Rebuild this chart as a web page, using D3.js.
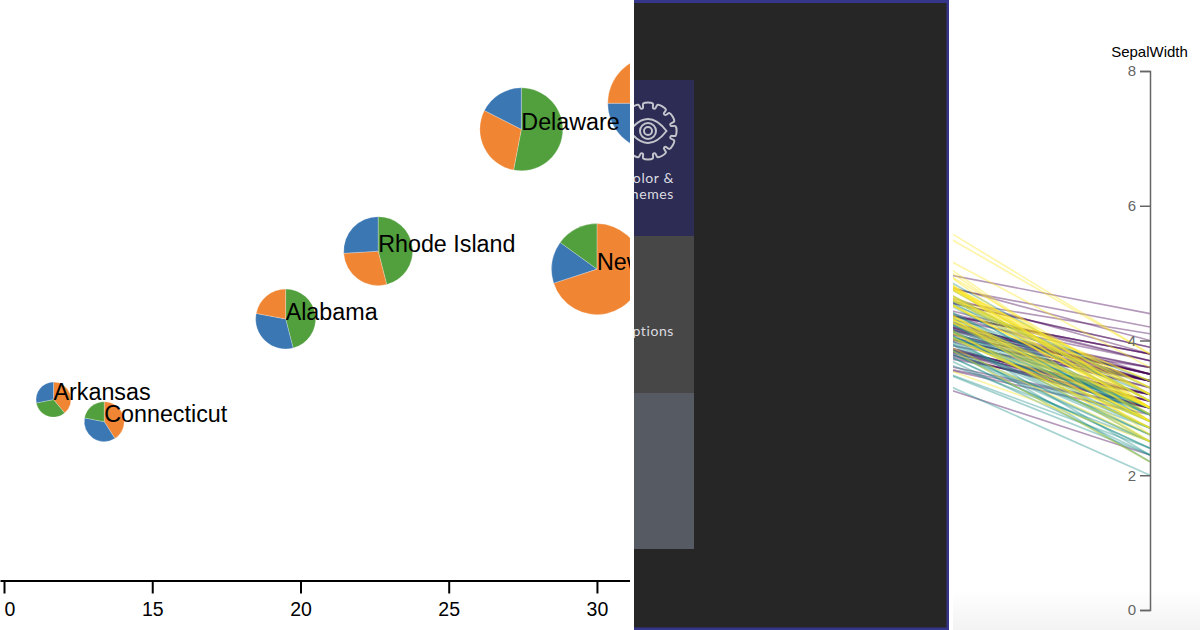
<!DOCTYPE html>
<html>
<head>
<meta charset="utf-8">
<script src="https://cdn.jsdelivr.net/npm/d3@7"></script>
<style>
  html, body { margin: 0; padding: 0; background: #fff; overflow: hidden; }
  svg { display: block; font-family: "Liberation Sans", Arial, sans-serif; }
</style>
</head>
<body>
<script>
// pie scatter (left panel)
var states = ["Arkansas", "Connecticut", "Alabama", "Rhode Island", "Delaware", "New", ""];
var stateX = [11.67, 13.38, 19.5, 22.62, 27.45, 30, 31.95];
var stateY = [31.1, 27.3, 45, 56.7, 77.7, 53.6, 82.2];
var stateSize = [17.5, 20, 30, 34.5, 41.5, 45.5, 47];
// slice shares, clockwise from 12 o'clock, same order as sliceKinds
var sliceShares = [
  [0.39, 0.33, 0.28],
  [0.41, 0.37, 0.22],
  [0.46, 0.32, 0.22],
  [0.46, 0.28, 0.26],
  [0.53, 0.295, 0.175],
  [0.70, 0.15, 0.15],
  [0.50, 0.25, 0.25]
];
var sliceKinds = [
  ["orange", "green", "blue"],
  ["orange", "blue", "green"],
  ["green", "blue", "orange"],
  ["green", "orange", "blue"],
  ["green", "orange", "blue"],
  ["orange", "blue", "green"],
  ["green", "blue", "orange"]
];
var xTicks = [10, 15, 20, 25, 30];
var xTickLabels = ["0", "15", "20", "25", "30"]; // first one is cropped to "0" in the picture

// parallel coordinates (right panel)
var dimensions = ["SepalLength", "SepalWidth"];
var yTicks = [0, 2, 4, 6, 8];
var setosaLength = [5.1,4.9,4.7,4.6,5.0,5.4,4.6,5.0,4.4,4.9,5.4,4.8,4.8,4.3,5.8,5.7,5.4,5.1,5.7,5.1,5.4,5.1,4.6,5.1,4.8,5.0,5.0,5.2,5.2,4.7,4.8,5.4,5.2,5.5,4.9,5.0,5.5,4.9,4.4,5.1,5.0,4.5,4.4,5.0,5.1,4.8,5.1,4.6,5.3,5.0];
var setosaWidth = [3.5,3.0,3.2,3.1,3.6,3.9,3.4,3.4,2.9,3.1,3.7,3.4,3.0,3.0,4.0,4.4,3.9,3.5,3.8,3.8,3.4,3.7,3.6,3.3,3.4,3.0,3.4,3.5,3.4,3.2,3.1,3.4,4.1,4.2,3.1,3.2,3.5,3.6,3.0,3.4,3.5,2.3,3.2,3.5,3.8,3.0,3.8,3.2,3.7,3.3];
var versicolorLength = [7.0,6.4,6.9,5.5,6.5,5.7,6.3,4.9,6.6,5.2,5.0,5.9,6.0,6.1,5.6,6.7,5.6,5.8,6.2,5.6,5.9,6.1,6.3,6.1,6.4,6.6,6.8,6.7,6.0,5.7,5.5,5.5,5.8,6.0,5.4,6.0,6.7,6.3,5.6,5.5,5.5,6.1,5.8,5.0,5.6,5.7,5.7,6.2,5.1,5.7];
var versicolorWidth = [3.2,3.2,3.1,2.3,2.8,2.8,3.3,2.4,2.9,2.7,2.0,3.0,2.2,2.9,2.9,3.1,3.0,2.7,2.2,2.5,3.2,2.8,2.5,2.8,2.9,3.0,2.8,3.0,2.9,2.6,2.4,2.4,2.7,2.7,3.0,3.4,3.1,2.3,3.0,2.5,2.6,3.0,2.6,2.3,2.7,3.0,2.9,2.9,2.5,2.8];
var virginicaLength = [6.3,5.8,7.1,6.3,6.5,7.6,4.9,7.3,6.7,7.2,6.5,6.4,6.8,5.7,5.8,6.4,6.5,7.7,7.7,6.0,6.9,5.6,7.7,6.3,6.7,7.2,6.2,6.1,6.4,7.2,7.4,7.9,6.4,6.3,6.1,7.7,6.3,6.4,6.0,6.9,6.7,6.9,5.8,6.8,6.7,6.7,6.3,6.5,6.2,5.9];
var virginicaWidth = [3.3,2.7,3.0,2.9,3.0,3.0,2.5,2.9,2.5,3.6,3.2,2.7,3.0,2.5,2.8,3.2,3.0,3.8,2.6,2.2,3.2,2.8,2.8,2.7,3.3,3.2,2.8,3.0,2.8,3.0,2.8,3.8,2.8,2.8,2.6,3.0,3.4,3.1,3.0,3.1,3.1,3.1,2.7,3.2,3.3,3.0,2.5,3.0,3.4,3.0];

var sliceColors = { blue: "#3b77b3", orange: "#f08634", green: "#519f3d" };

var svg = d3.select("body").append("svg")
  .attr("width", 1200)
  .attr("height", 630);

var defs = svg.append("defs");
function addClip(id, x, y, w, h) {
  defs.append("clipPath").attr("id", id).append("rect")
    .attr("x", x).attr("y", y).attr("width", w).attr("height", h);
}
addClip("clip-left", 0, 0, 630, 630);
addClip("clip-tile", 634, 0, 60, 630);
addClip("clip-right", 953, 0, 247, 630);

// ---- left panel ----
var left = svg.append("g").attr("clip-path", "url(#clip-left)");

var x = d3.scaleLinear().domain([9.865, 31.115]).range([0, 630]);
var y = d3.scaleLinear().domain([0, 100]).range([580, 0]);
var r = d3.scaleLinear().domain([0, 50]).range([0, 50]);
var pie = d3.pie().sort(null);

function place(i) {
  return "translate(" + x(stateX[i]) + "," + y(stateY[i]) + ")";
}

var stateGroups = left.selectAll(".state")
  .data(states)
  .enter()
  .append("g")
  .attr("class", "state")
  .attr("transform", function(d, i) { return place(i); });

stateGroups.each(function(d, i) {
  var arc = d3.arc().innerRadius(0).outerRadius(r(stateSize[i]));
  d3.select(this).selectAll("path")
    .data(pie(sliceShares[i]))
    .enter()
    .append("path")
    .attr("d", arc)
    .attr("fill", function(s, j) {
      return sliceColors[sliceKinds[i][j]];
    })
    .attr("stroke", "#fff")
    .attr("stroke-opacity", 0.5)
    .attr("stroke-width", 0.5);
});

// labels go after all the pies, Delaware runs over its neighbour
states.forEach(function(name, i) {
  if (name === "") return;
  left.append("text")
    .text(name)
    .attr("transform", place(i))
    .attr("dy", 0.6)
    .attr("font-size", "23.3px")
    .attr("fill", "#000");
});

var xAxis = left.append("g")
  .attr("transform", "translate(0,580.5)")
  .call(d3.axisBottom(x).tickValues(xTicks).tickSize(13).tickSizeOuter(0)
    .tickFormat(function(d, i) { return xTickLabels[i]; }));
xAxis.select(".domain").attr("stroke", "#000").attr("stroke-width", 2);
xAxis.selectAll(".tick line").attr("stroke", "#000").attr("stroke-width", 2);
xAxis.selectAll(".tick text")
  .attr("font-size", "19.5px")
  .attr("font-family", "Liberation Sans")
  .attr("fill", "#000")
  .attr("y", 21.5)
  .attr("text-anchor", function(d, i) { return i === 0 ? "start" : "middle"; });

// ---- middle panel (dark settings window) ----
var tiles = [
  { top: 80, h: 156, fill: "#2c2c54" },
  { top: 236, h: 157, fill: "#474747" },
  { top: 393, h: 156, fill: "#565a63" }
];
svg.append("rect")
  .attr("x", 634).attr("y", 0).attr("width", 315).attr("height", 630)
  .attr("fill", "#35358a");
svg.append("rect")
  .attr("x", 634).attr("y", 3).attr("width", 312.5).attr("height", 624.5)
  .attr("fill", "#262626");

var tileGroup = svg.append("g").attr("clip-path", "url(#clip-tile)");
tileGroup.selectAll("rect")
  .data(tiles)
  .enter()
  .append("rect")
  .attr("x", 634)
  .attr("y", function(d) { return d.top; })
  .attr("width", 60)
  .attr("height", function(d) { return d.h; })
  .attr("fill", function(d) { return d.fill; });

var tileLabels = [
  { text: "Color &", base: 183 },
  { text: "Themes", base: 199 },
  { text: "Options", base: 336 }
];
tileGroup.selectAll("text")
  .data(tileLabels)
  .enter()
  .append("text")
  .text(function(d) { return d.text; })
  .attr("x", 674)
  .attr("y", function(d) { return d.base; })
  .attr("text-anchor", "end")
  .attr("font-family", "Lato")
  .attr("font-size", "14px")
  .attr("letter-spacing", "0.6px")
  .attr("fill", "#dcdce0");

// gear + eye icon
var icon = tileGroup.append("g")
  .attr("transform", "translate(648,131)")
  .attr("fill", "none")
  .attr("stroke", "#c4c4cc")
  .attr("stroke-width", 2);
var gearPts = [];
d3.range(12).forEach(function(i) {
  var a = i * Math.PI / 6;
  var w = 0.09;
  gearPts.push([a - 0.17, 28]);
  gearPts.push([a + 0.17, 28]);
  gearPts.push([a + 0.26 - w / 2, 23.5]);
  gearPts.push([a + 0.26 + w / 2, 23.5]);
});
icon.append("path")
  .attr("d", d3.lineRadial().curve(d3.curveCatmullRomClosed.alpha(0.5))(gearPts));
icon.append("path").attr("d", "M-18.5,0 Q0,-24 18.5,0 Q0,24 -18.5,0 Z");
icon.append("circle").attr("r", 8);
icon.append("circle").attr("r", 4);

// ---- right panel ----
var grad = defs.append("linearGradient")
  .attr("id", "fade")
  .attr("x1", 0).attr("y1", 0).attr("x2", 0).attr("y2", 1);
grad.append("stop").attr("offset", "0%").attr("stop-color", "#fff");
grad.append("stop").attr("offset", "100%").attr("stop-color", "#f3f3f3");
svg.append("rect")
  .attr("x", 953).attr("y", 590).attr("width", 247).attr("height", 40)
  .attr("fill", "url(#fade)");

var px = d3.scalePoint().domain(dimensions).range([695, 1150]);
var py = d3.scaleLinear().domain([0, 8]).range([610, 71]);
var speciesColor = d3.scaleOrdinal()
  .domain(["setosa", "versicolor", "virginica"])
  .range(["#440154", "#21918c", "#fde725"]);

var flowers = [];
function addSpecies(name, lengths, widths) {
  lengths.forEach(function(v, i) {
    flowers.push({ species: name, SepalLength: v, SepalWidth: widths[i] });
  });
}
addSpecies("setosa", setosaLength, setosaWidth);
addSpecies("versicolor", versicolorLength, versicolorWidth);
addSpecies("virginica", virginicaLength, virginicaWidth);

var flowerLine = d3.line()
  .x(function(d) { return px(d); });

svg.append("g")
  .attr("clip-path", "url(#clip-right)")
  .selectAll("path")
  .data(flowers)
  .enter()
  .append("path")
  .attr("d", function(f) {
    return flowerLine.y(function(dim) { return py(f[dim]); })(dimensions);
  })
  .attr("fill", "none")
  .attr("stroke", function(f) { return speciesColor(f.species); })
  .attr("stroke-width", 1.7)
  .attr("stroke-opacity", 0.4);

var yAxis = svg.append("g")
  .attr("transform", "translate(1150,0)")
  .call(d3.axisLeft(py).tickValues(yTicks).tickSize(10));
yAxis.select(".domain").attr("stroke", "#666").attr("stroke-width", 1.5);
yAxis.selectAll(".tick line").attr("stroke", "#666").attr("stroke-width", 1.5);
yAxis.selectAll(".tick text")
  .attr("font-size", "15px")
  .attr("font-family", "Liberation Sans")
  .attr("fill", "#666")
  .attr("x", -14);

svg.append("text")
  .text("SepalWidth")
  .attr("x", 1149.5)
  .attr("y", 57)
  .attr("text-anchor", "middle")
  .attr("font-size", "15px")
  .attr("fill", "#000");
</script>
</body>
</html>
